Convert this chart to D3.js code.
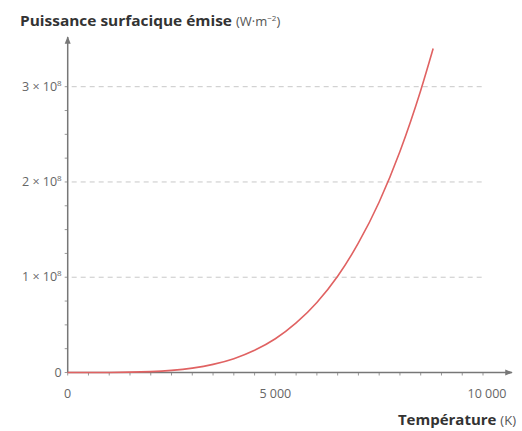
<!DOCTYPE html>
<html>
<head>
<meta charset="utf-8">
<script src="https://cdn.jsdelivr.net/npm/d3@7"></script>
<style>
  body { margin: 0; background: #fff; }
  text { font-family: "Open Sans", "Noto Sans", sans-serif; }
</style>
</head>
<body>
<div id="chart"></div>
<script>
// temperature (K) and emitted surface power (units of 1e8 W/m2)
const temperatures = [0, 1000, 2000, 2500, 3000, 3500, 4000, 4500, 5000, 5500, 6000, 6500, 7000, 7500, 8000, 8500, 8800];
const powers = [0, 0.0006, 0.009, 0.022, 0.046, 0.085, 0.145, 0.233, 0.354, 0.52, 0.735, 1.01, 1.36, 1.79, 2.32, 2.96, 3.40];
const xTickValues = [0, 5000, 10000];
const xTickLabels = ["0", "5 000", "10 000"];
const yGridValues = [1, 2, 3];
const yTickLabels = ["0", "1", "2", "3"];

const width = 522, height = 431;
const x0 = 67.7, x1 = 483, y0 = 372.5, yTop = 86.7;

const x = d3.scaleLinear().domain([0, 10000]).range([x0, x1]);
const y = d3.scaleLinear().domain([0, 3]).range([y0, yTop]);

const svg = d3.select("#chart").append("svg")
  .attr("width", width)
  .attr("height", height);

// dashed grid lines
svg.append("g")
  .selectAll("line")
  .data(yGridValues)
  .join("line")
  .attr("x1", x0 + 4)
  .attr("x2", x1)
  .attr("y1", d => y(d))
  .attr("y2", d => y(d))
  .attr("stroke", "#c8c8c8")
  .attr("stroke-width", 1)
  .attr("stroke-dasharray", "5,4");

// minor ticks
svg.append("g")
  .selectAll("line")
  .data(d3.range(0, 10001, 500))
  .join("line")
  .attr("x1", d => x(d)).attr("x2", d => x(d))
  .attr("y1", y0).attr("y2", y0 + 3)
  .attr("stroke", "#999").attr("stroke-width", 1);

svg.append("g")
  .selectAll("line")
  .data(d3.range(0, 3.01, 0.25))
  .join("line")
  .attr("x1", x0 - 3).attr("x2", x0)
  .attr("y1", d => y(d)).attr("y2", d => y(d))
  .attr("stroke", "#999").attr("stroke-width", 1);

// axes with arrows
svg.append("defs").append("marker")
  .attr("id", "arrow")
  .attr("viewBox", "0 0 10 10")
  .attr("refX", 9).attr("refY", 5)
  .attr("markerWidth", 5).attr("markerHeight", 5)
  .attr("orient", "auto")
  .append("path")
  .attr("d", "M0,1L10,5L0,9Z")
  .attr("fill", "#777");

svg.append("line")
  .attr("x1", x0).attr("x2", 512)
  .attr("y1", y0).attr("y2", y0)
  .attr("stroke", "#777").attr("stroke-width", 1.5)
  .attr("marker-end", "url(#arrow)");

svg.append("line")
  .attr("x1", x0).attr("x2", x0)
  .attr("y1", y0).attr("y2", 37)
  .attr("stroke", "#777").attr("stroke-width", 1.5)
  .attr("marker-end", "url(#arrow)");

// x tick labels
svg.append("g")
  .selectAll("text")
  .data(xTickValues)
  .join("text")
  .attr("x", d => x(d) + (d === 10000 ? 4 : 0))
  .attr("y", 398)
  .attr("text-anchor", "middle")
  .attr("font-size", 12.5)
  .attr("fill", "#666")
  .text((d, i) => xTickLabels[i]);

// y tick labels
const yl = svg.append("g")
  .selectAll("text")
  .data(yTickLabels)
  .join("text")
  .attr("x", x0 - 6)
  .attr("y", (d, i) => y(i) + 4)
  .attr("text-anchor", "end")
  .attr("font-size", 12.5)
  .attr("fill", "#666");

yl.each(function(d, i) {
  const t = d3.select(this);
  if (i === 0) { t.text(d); return; }
  t.append("tspan").text(d + " × 10");
  t.append("tspan").attr("font-size", 8).attr("dy", -5).text("8");
});

// curve
const line = d3.line()
  .x((d, i) => x(temperatures[i]))
  .y(d => y(d))
  .curve(d3.curveMonotoneX);

svg.append("path")
  .datum(powers)
  .attr("fill", "none")
  .attr("stroke", "#e06262")
  .attr("stroke-width", 1.6)
  .attr("d", line);

// axis titles
const title = svg.append("text")
  .attr("x", 20).attr("y", 26)
  .attr("font-size", 15);
title.append("tspan").attr("font-weight", "bold").attr("fill", "#333")
  .attr("textLength", 212).attr("lengthAdjust", "spacingAndGlyphs")
  .text("Puissance surfacique émise");
title.append("tspan").attr("fill", "#555").attr("font-size", 13).attr("dx", 4).text("(W·m");
title.append("tspan").attr("fill", "#555").attr("font-size", 8).attr("dy", -5).text("−2");
title.append("tspan").attr("fill", "#555").attr("font-size", 13).attr("dy", 5).text(")");

const xt = svg.append("text")
  .attr("x", 516).attr("y", 425)
  .attr("text-anchor", "end")
  .attr("font-size", 15);
xt.append("tspan").attr("font-weight", "bold").attr("fill", "#333").text("Température ");
xt.append("tspan").attr("fill", "#555").attr("font-size", 13).text("(K)");
</script>
</body>
</html>
